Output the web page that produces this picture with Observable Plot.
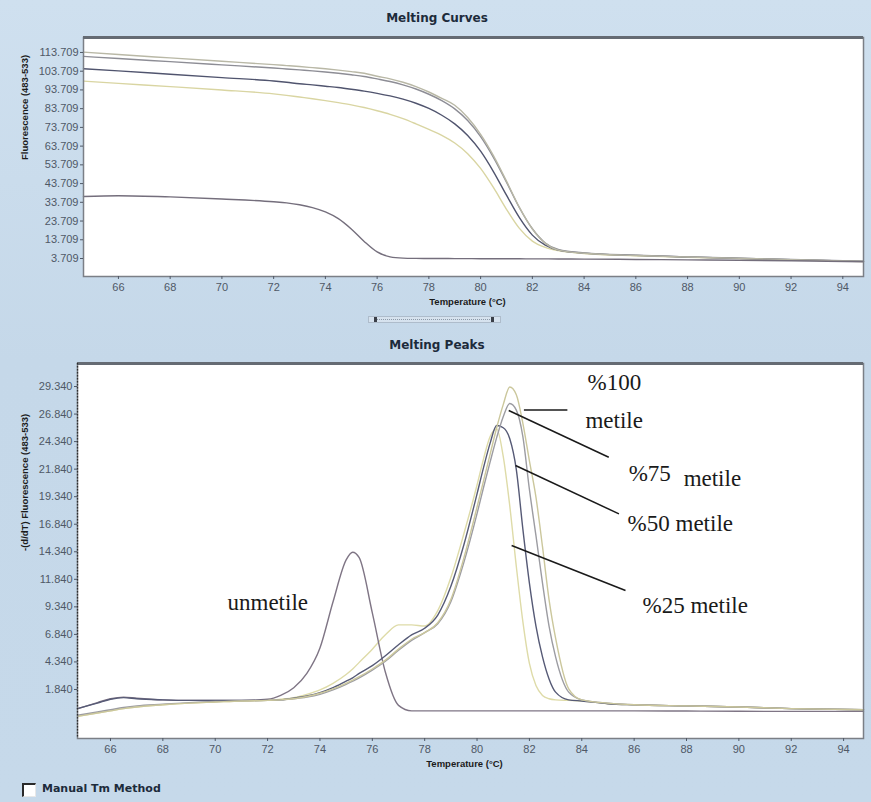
<!DOCTYPE html>
<html><head><meta charset="utf-8">
<script src="https://cdn.jsdelivr.net/npm/d3@7"></script>
<script src="https://cdn.jsdelivr.net/npm/@observablehq/plot@0.6"></script>
<style>
html,body{margin:0;padding:0;}
body{width:871px;height:802px;overflow:hidden;}
#page{position:relative;width:871px;height:802px;background:linear-gradient(180deg,#cfe0ef 0%,#c5d8e9 45%,#c6d9ea 100%);font-family:"DejaVu Sans",sans-serif;}
.title{position:absolute;left:0;width:874px;text-align:center;font-weight:bold;font-size:12px;line-height:16px;color:#1d2b3b;}
#top{position:absolute;left:0;top:27px;}
#bot{position:absolute;left:0;top:353px;}
#scroll{position:absolute;left:368px;top:316px;width:131px;height:5px;border:1px solid #aebccb;background:#d6e2ee;}
#scroll .ln{position:absolute;left:6px;right:6px;top:2px;border-top:1px dotted #8c99a8;}
#scroll .m{position:absolute;top:0px;width:3px;height:5px;background:#3a3f48;}
#chk{position:absolute;left:22px;top:783px;width:11px;height:11px;background:#fff;border-top:2px solid #2a2a2a;border-left:2px solid #2a2a2a;border-right:1px solid #e8e8e8;border-bottom:1px solid #e8e8e8;}
#chklab{position:absolute;left:42px;top:782px;font-weight:bold;font-size:11px;color:#1d2b3b;}
</style></head><body><div id="page">
<div class="title" style="top:10px">Melting Curves</div>
<div id="top"></div>
<div id="scroll"><div class="ln"></div><div class="m" style="left:5px"></div><div class="m" style="left:122px"></div></div>
<div class="title" style="top:337px">Melting Peaks</div>
<div id="bot"></div>
<div id="chk"></div><div id="chklab">Manual Tm Method</div>
</div>
<script>
// ---------- data: Melting Curves (fluorescence vs temperature) ----------
const tempTop = [64.65, 66, 68, 70, 72, 72.5, 73, 73.5, 74, 74.5, 75, 75.5, 76, 76.5, 77, 77.5, 78, 78.5, 79, 79.5, 80, 80.5, 81, 81.5, 82, 82.5, 83, 84, 86, 88, 90, 92, 94.8];
const curve100 = [113.9, 112.6, 110.8, 109.0, 107.2, 106.7, 106.2, 105.6, 105.0, 104.3, 103.5, 102.6, 101.0, 99.6, 97.8, 95.5, 92.6, 89.2, 85.5, 79.0, 70.0, 58.5, 45.0, 31.0, 19.5, 11.8, 8.2, 6.5, 5.3, 4.5, 3.8, 3.1, 2.2];
const curve75 = [111.6, 110.5, 108.8, 107.1, 105.4, 104.9, 104.4, 103.9, 103.3, 102.6, 101.8, 100.9, 99.6, 98.2, 96.4, 94.2, 91.4, 88.0, 83.6, 77.4, 68.8, 57.6, 44.5, 30.8, 19.6, 12.0, 8.5, 6.7, 5.5, 4.6, 3.9, 3.2, 2.3];
const curve50 = [105.0, 103.9, 102.1, 100.3, 98.5, 97.8, 97.0, 96.4, 95.7, 95.0, 94.1, 93.1, 91.9, 90.5, 88.8, 86.6, 83.8, 80.2, 75.6, 69.4, 61.0, 50.0, 37.5, 25.5, 16.2, 10.8, 8.2, 6.6, 5.4, 4.5, 3.8, 3.1, 2.2];
const curve25 = [98.4, 97.2, 95.5, 93.7, 91.6, 90.8, 89.9, 89.0, 88.0, 86.9, 85.7, 84.3, 82.6, 80.7, 78.4, 75.6, 72.6, 69.5, 65.4, 59.7, 51.8, 41.5, 30.0, 19.8, 13.0, 9.6, 7.9, 6.4, 5.2, 4.4, 3.7, 3.0, 2.1];
const curveUn = [36.8, 37.2, 36.6, 35.5, 34.0, 33.4, 32.4, 30.9, 28.6, 25.0, 19.5, 12.8, 7.2, 4.6, 3.9, 3.75, 3.7, 3.7, 3.65, 3.65, 3.6, 3.6, 3.55, 3.55, 3.5, 3.5, 3.45, 3.4, 3.2, 3.0, 2.8, 2.5, 2.0];

// ---------- data: Melting Peaks (-dF/dT vs temperature) ----------
const tempBot = [64.74, 65.5, 66, 66.5, 67, 68, 69, 70, 71, 72, 72.5, 73, 73.5, 74, 74.5, 75, 75.25, 75.5, 76, 76.5, 77, 77.5, 78, 78.5, 79, 79.5, 80, 80.25, 80.5, 80.75, 81, 81.25, 81.5, 81.75, 82, 82.25, 82.5, 82.75, 83, 83.5, 84, 85, 86, 88, 90, 92, 94.76];
const peak100 = [-0.6, -0.3, -0.1, 0.1, 0.25, 0.45, 0.6, 0.7, 0.8, 0.85, 0.9, 1.0, 1.2, 1.5, 1.9, 2.4, 2.7, 3.0, 3.7, 4.5, 5.5, 6.4, 7.0, 7.9, 10.0, 13.8, 18.4, 20.8, 23.2, 25.6, 27.7, 29.3, 28.6, 26.0, 22.6, 19.3, 14.8, 10.0, 6.5, 1.9, 0.9, 0.6, 0.45, 0.35, 0.25, 0.1, 0.0];
const peak75 = [-0.5, -0.2, 0.0, 0.2, 0.35, 0.5, 0.65, 0.75, 0.8, 0.85, 0.9, 1.0, 1.15, 1.4, 1.8, 2.3, 2.6, 2.9, 3.6, 4.4, 5.4, 6.3, 7.0, 7.8, 9.8, 13.4, 17.8, 20.2, 22.5, 24.7, 26.6, 27.8, 27.2, 24.8, 20.0, 15.8, 11.5, 7.6, 4.8, 1.6, 0.9, 0.6, 0.45, 0.35, 0.25, 0.1, 0.0];
const peak50 = [0.1, 0.6, 0.95, 1.1, 1.0, 0.9, 0.85, 0.85, 0.85, 0.85, 0.9, 1.05, 1.25, 1.55, 2.0, 2.6, 2.9, 3.3, 4.0, 4.9, 5.9, 6.8, 7.4, 8.6, 11.2, 15.0, 19.6, 22.0, 24.2, 25.8, 25.6, 24.6, 21.8, 16.4, 11.5, 7.6, 4.8, 2.8, 1.6, 0.9, 0.8, 0.55, 0.45, 0.35, 0.25, 0.1, 0.0];
const peak25 = [-0.6, -0.3, -0.1, 0.1, 0.25, 0.45, 0.6, 0.7, 0.8, 0.85, 0.95, 1.1, 1.4, 1.8, 2.4, 3.2, 3.7, 4.3, 5.5, 6.8, 7.7, 7.7, 7.6, 9.0, 12.0, 16.0, 20.4, 22.8, 24.8, 25.5, 23.0, 18.5, 13.0, 8.0, 4.2, 2.2, 1.3, 1.0, 0.9, 0.85, 0.8, 0.55, 0.45, 0.35, 0.25, 0.1, 0.0];
const peakUn = [0.1, 0.65, 1.0, 1.15, 1.05, 0.9, 0.85, 0.85, 0.85, 0.95, 1.3, 2.0, 3.3, 5.6, 9.8, 13.6, 14.3, 13.8, 8.8, 3.4, 0.4, -0.1, -0.1, -0.1, -0.1, -0.1, -0.1, -0.1, -0.1, -0.1, -0.1, -0.1, -0.1, -0.1, -0.1, -0.1, -0.1, -0.1, -0.1, -0.1, -0.1, -0.1, -0.1, -0.12, -0.14, -0.15, -0.15];

// ---------- ticks ----------
const xTicks = [66, 68, 70, 72, 74, 76, 78, 80, 82, 84, 86, 88, 90, 92, 94];
const yTicksTop = [3.709, 13.709, 23.709, 33.709, 43.709, 53.709, 63.709, 73.709, 83.709, 93.709, 103.709, 113.709];
const yTicksBot = [1.84, 4.34, 6.84, 9.34, 11.84, 14.34, 16.84, 19.34, 21.84, 24.34, 26.84, 29.34];

// ---------- annotations (data units of the peaks chart) ----------
const annoLabels = ["%100", "metile", "%75", "metile", "%50 metile", "%25 metile", "unmetile"];
const annoT = [84.22, 84.14, 85.79, 87.89, 85.75, 86.32, 70.47];
const annoV = [29.70, 26.25, 21.44, 20.99, 16.91, 9.46, 9.74];
const ptrT1 = [81.79, 81.21, 81.47, 81.32];
const ptrV1 = [27.2, 27.16, 22.17, 14.91];
const ptrT2 = [83.45, 85.03, 85.42, 85.67];
const ptrV2 = [27.2, 22.92, 17.78, 10.82];

// ---------- build ----------
const topSeries = [
  {v: curve25, c: "#d9d5a2"},
  {v: curve50, c: "#50546e"},
  {v: curve75, c: "#8d8d95"},
  {v: curve100, c: "#b9b8a6"},
  {v: curveUn, c: "#746e7c"}
];
const botSeries = [
  {v: peak25, c: "#dedba8"},
  {v: peakUn, c: "#7f7585"},
  {v: peak50, c: "#565a76"},
  {v: peak75, c: "#9c9ca2"},
  {v: peak100, c: "#cbc79c"}
];
const rows = (xs, ys) => xs.map((t, i) => ({t, v: ys[i]}));

const common = {
  width: 871,
  marginRight: 8,
  marginTop: 10,
  style: {background: "transparent", fontFamily: "'Liberation Sans', Arial, sans-serif", fontSize: "11px", color: "#4f5866", overflow: "visible"}
};
const labStyle = {fontWeight: "bold", fontSize: 9.5, fill: "#1b1b1b", fontFamily: "'Liberation Sans', Arial, sans-serif"};

const yDomTop = [-5.9, 121.7];
const topPlot = Plot.plot({
  ...common,
  height: 290,
  marginLeft: 83,
  marginBottom: 41,
  x: {domain: [64.65, 94.8]},
  y: {domain: yDomTop},
  marks: [
    Plot.frame({fill: "white", stroke: null}),
    ...topSeries.map(s => Plot.line(rows(tempTop, s.v), {x: "t", y: "v", stroke: s.c, strokeWidth: 1.4, curve: "monotone-x"})),
    Plot.frame({stroke: "#7b7f86", strokeWidth: 1.5}),
    Plot.ruleY([yDomTop[1]], {stroke: "#656b73", strokeWidth: 3}),
    Plot.axisX({ticks: xTicks, tickSize: 3, tickPadding: 4, label: null}),
    Plot.axisY({ticks: yTicksTop, tickFormat: d => d.toFixed(3), tickSize: 3, tickPadding: 2, label: null}),
    Plot.text(["Temperature (°C)"], {frameAnchor: "bottom", dy: 28, dx: -6, text: d => d, ...labStyle}),
    Plot.text(["Fluorescence (483-533)"], {frameAnchor: "left", dx: -59, dy: 3, rotate: -90, text: d => d, ...labStyle})
  ]
});
document.getElementById("top").append(topPlot);

const yDomBot = [-2.61, 31.43];
const botPlot = Plot.plot({
  ...common,
  height: 425,
  marginLeft: 77,
  marginBottom: 40,
  x: {domain: [64.74, 94.76]},
  y: {domain: yDomBot},
  marks: [
    Plot.frame({fill: "white", stroke: null}),
    ...botSeries.map(s => Plot.line(rows(tempBot, s.v), {x: "t", y: "v", stroke: s.c, strokeWidth: 1.4, curve: "monotone-x"})),
    Plot.frame({stroke: "#7b7f86", strokeWidth: 1.5}),
    Plot.ruleY([yDomBot[1]], {stroke: "#656b73", strokeWidth: 3}),
    Plot.ruleX([64.74], {stroke: "#2e2e2e", strokeWidth: 1.3, strokeDasharray: "1.5 1.5"}),
    Plot.axisX({ticks: xTicks, tickSize: 3, tickPadding: 4, label: null}),
    Plot.axisY({ticks: yTicksBot, tickFormat: d => d.toFixed(3), tickSize: 3, tickPadding: 2, label: null}),
    Plot.link(ptrT1.map((t, i) => ({x1: t, y1: ptrV1[i], x2: ptrT2[i], y2: ptrV2[i], dash: i === 0 ? null : "3 1.5"})),
      {x1: "x1", y1: "y1", x2: "x2", y2: "y2", stroke: "#1a1a1a", strokeWidth: 1.5, strokeDasharray: d => d.dash}),
    Plot.text(annoLabels.map((s, i) => ({s, t: annoT[i], v: annoV[i]})),
      {x: "t", y: "v", text: "s", textAnchor: "start", fontFamily: "'Liberation Serif', 'Times New Roman', serif", fontSize: 23, fill: "#1a1a1a"}),
    Plot.text(["Temperature (°C)"], {frameAnchor: "bottom", dy: 28, dx: -6, text: d => d, ...labStyle}),
    Plot.text(["-(d/dT) Fluorescence (483-533)"], {frameAnchor: "left", dx: -53, dy: 0, rotate: -90, text: d => d, ...labStyle})
  ]
});
document.getElementById("bot").append(botPlot);
</script>
</body></html>
